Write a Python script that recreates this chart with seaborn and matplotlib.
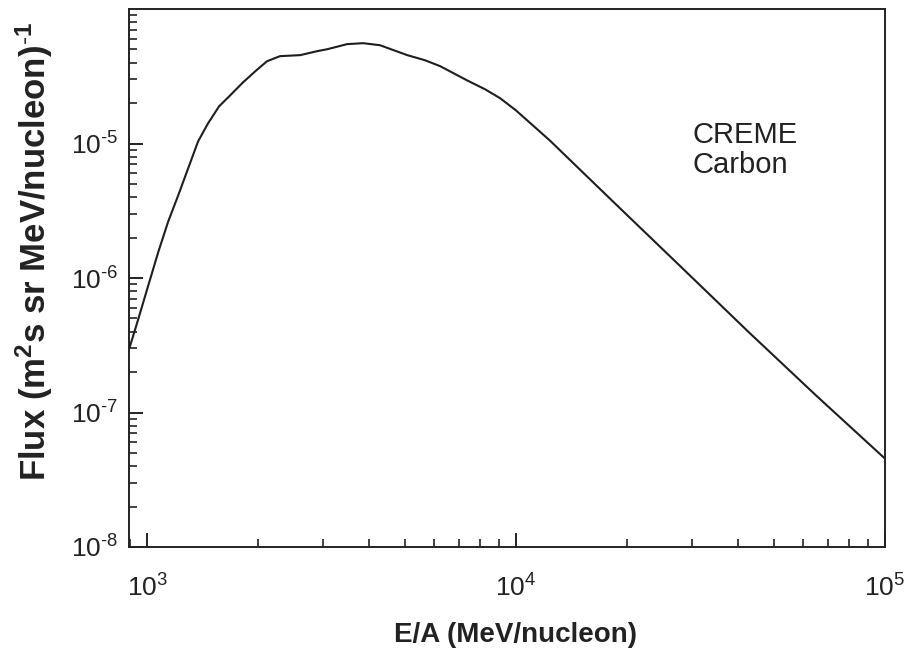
import matplotlib
matplotlib.use("Agg")
import matplotlib.pyplot as plt
import seaborn as sns
import pandas as pd
from matplotlib.ticker import LogLocator, FuncFormatter, NullFormatter
import math

# CREME carbon differential flux spectrum
energy_per_nucleon = [895, 946, 1006, 1072, 1140, 1213, 1291, 1374, 1462, 1567,
                      1679, 1820, 1963, 2113, 2291, 2600, 2891, 3076, 3483, 3846,
                      4276, 5070, 5662, 6223, 7362, 8241, 9057, 10000, 11117, 12359,
                      18450, 27990, 42750, 65010, 100000]
flux = [3.0e-7, 4.94e-7, 8.71e-7, 1.56e-6, 2.62e-6, 4.09e-6, 6.50e-6, 1.035e-5, 1.41e-5, 1.89e-5,
        2.28e-5, 2.85e-5, 3.44e-5, 4.09e-5, 4.46e-5, 4.54e-5, 4.86e-5, 5.02e-5, 5.48e-5, 5.57e-5,
        5.38e-5, 4.54e-5, 4.16e-5, 3.76e-5, 2.95e-5, 2.53e-5, 2.17e-5, 1.76e-5, 1.36e-5, 1.05e-5,
        3.63e-6, 1.21e-6, 3.95e-7, 1.34e-7, 4.54e-8]

x_label = "E/A (MeV/nucleon)"
y_label = r"Flux (m$^{\mathbf{2}}$s sr MeV/nucleon)$^{\mathbf{\text{-}1}}$"
annotation_lines = ["CREME", "Carbon"]
y_major_ticks = [1e-8, 1e-7, 1e-6, 1e-5]

sns.set_theme(style="ticks")
plt.rcParams["font.family"] = ["Liberation Sans", "DejaVu Sans"]
plt.rcParams["mathtext.fontset"] = "custom"
plt.rcParams["mathtext.rm"] = "Liberation Sans"
plt.rcParams["mathtext.bf"] = "Liberation Sans:bold"
plt.rcParams["mathtext.it"] = "Liberation Sans:italic"

df = pd.DataFrame({"E": energy_per_nucleon, "flux": flux})


def power_of_ten(value, _pos):
    exp = int(round(math.log10(value)))
    if exp < 0:
        return r"$10^{\text{-}%d}$" % (-exp)
    return r"$10^{%d}$" % exp


fig = plt.figure(figsize=(9.07, 6.53), dpi=100)
fig.patch.set_facecolor("white")
ax = fig.add_axes([129 / 907, 1 - 547 / 653, (885 - 129) / 907, (547 - 9) / 653])

sns.lineplot(data=df, x="E", y="flux", ax=ax, color="#1e1e1e", linewidth=1.5, sort=True)

ax.set_xscale("log")
ax.set_yscale("log")
ax.set_xlim(893, 1e5)
ax.set_ylim(1e-8, 1e-4)

ax.xaxis.set_major_locator(LogLocator(base=10, numticks=10))
ax.set_yticks(y_major_ticks)
ax.xaxis.set_major_formatter(FuncFormatter(power_of_ten))
ax.yaxis.set_major_formatter(FuncFormatter(power_of_ten))
ax.xaxis.set_minor_locator(LogLocator(base=10, subs=range(2, 10), numticks=20))
ax.yaxis.set_minor_locator(LogLocator(base=10, subs=range(2, 10), numticks=20))
ax.xaxis.set_minor_formatter(NullFormatter())
ax.yaxis.set_minor_formatter(NullFormatter())

for side in ["left", "bottom", "top", "right"]:
    ax.spines[side].set_linewidth(1.4)
    ax.spines[side].set_color("#222222")

ax.tick_params(axis="both", which="major", direction="in", length=10, width=1.4,
               color="#222222", labelsize=19, labelcolor="#222222",
               top=False, right=False)
ax.tick_params(axis="x", which="major", pad=20)
ax.tick_params(axis="y", which="major", pad=8)
ax.tick_params(axis="both", which="minor", direction="in", length=5.8, width=1.2,
               color="#222222", top=False, right=False)

ax.set_xlabel(x_label, fontsize=20, fontweight="bold", color="#222222")
ax.set_ylabel(y_label, fontsize=25, fontweight="bold", color="#222222")
ax.xaxis.set_label_coords(0.511, -0.164)
ax.xaxis.label.set_va("center")
ax.yaxis.set_label_coords(-0.125, 0.55)
ax.yaxis.label.set_va("center")

ax.text(0.745, 0.751, annotation_lines[0], transform=ax.transAxes, fontsize=21,
        va="baseline", ha="left", color="#222222")
ax.text(0.745, 0.695, annotation_lines[1], transform=ax.transAxes, fontsize=21,
        va="baseline", ha="left", color="#222222")

fig.savefig("out.png", dpi=100, facecolor="white")
